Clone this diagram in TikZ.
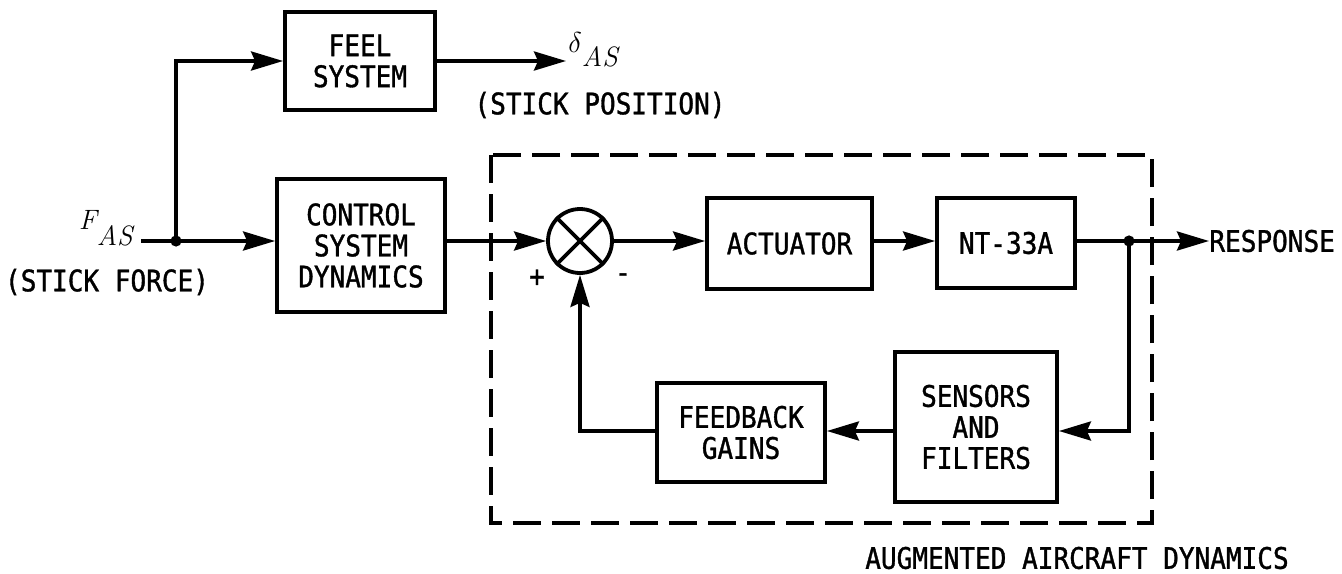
\documentclass[tikz,border=0pt]{standalone}
\usepackage{fontspec}
\newfontfamily\lab[FakeStretch=0.88,FakeBold=1.2]{DejaVu Sans Mono}
\usetikzlibrary{arrows.meta}
\tikzset{
  lbl/.style={font=\lab\fontsize{14.8pt}{15.5pt}\selectfont, align=center, inner sep=0pt},
  blk/.style={draw, line width=1.9pt, lbl},
  conn/.style={line width=1.8pt, -{Stealth[length=16pt,width=9.5pt,inset=2pt]}},
  wire/.style={line width=1.8pt},
  dashbox/.style={line width=2.4pt, dash pattern=on 14pt off 5.5pt},
  italbl/.style={font=\rmfamily\itshape\fontsize{14pt}{14pt}\selectfont, inner sep=0pt},
}
\begin{document}
\begin{tikzpicture}[x=0.5pt,y=-0.5pt]
\useasboundingbox (0,0) rectangle (1342,573);
\fill[white] (0,0) rectangle (1342,573);

% blocks
\node[blk, minimum width=75pt, minimum height=49pt] (feel) at (360,61) {FEEL\\SYSTEM};
\node[blk, minimum width=84pt, minimum height=66.5pt] (ctrl) at (361,245.5) {CONTROL\\SYSTEM\\DYNAMICS};
\node[draw, circle, line width=1.9pt, minimum size=32pt, inner sep=0pt] (sum) at (580,241) {};
\draw[line width=1.8pt] (sum.north east) -- (sum.south west) (sum.north west) -- (sum.south east);
\node[blk, minimum width=82.5pt, minimum height=45.5pt] (act) at (789.5,243.5) {ACTUATOR};
\node[blk, minimum width=69pt, minimum height=45pt] (nt) at (1006,243) {NT-33A};
\node[blk, minimum width=81pt, minimum height=75pt] (sens) at (976,427) {SENSORS\\AND\\FILTERS};
\node[blk, minimum width=84pt, minimum height=49.5pt] (fb) at (741,432.5) {FEEDBACK\\GAINS};

% dashed enclosure
\draw[dashbox] (491,155) rectangle (1152,523);

% labels
\node[italbl, anchor=base east] (fas) at (133,229) {F\raisebox{-8pt}{AS}};
\node[lbl] (sforce) at (107,282) {(STICK FORCE)};
\node[italbl, anchor=base west] (das) at (568,52) {$\delta$\raisebox{-7pt}{AS}};
\node[lbl] (spos) at (600,105) {(STICK POSITION)};
\node[lbl, anchor=west] (resp) at (1209,241) {RESPONSE};
\node[lbl] (aug) at (1077,558) {AUGMENTED AIRCRAFT DYNAMICS};
\node[lbl] (plus) at (537,278) {+};
\node[lbl] (minus) at (623,278) {-};

% coordinates
\coordinate (in) at (141,241);
\coordinate (j1) at (176,241);
\coordinate (j2) at (1129,241);
\coordinate (dout) at (566,61);
\coordinate (c2) at (1129,431);

% connectors
\draw[wire] (in) -- (j1);
\draw[conn] (j1) -- (ctrl.west |- j1);
\draw[conn] (j1) |- (feel.west);
\draw[conn] (feel.east) -- (dout);
\draw[conn] (ctrl.east |- j1) -- (sum.west);
\draw[conn] (sum.east) -- (act.west |- sum.east);
\draw[conn] (act.east |- sum.east) -- (nt.west |- sum.east);
\draw[conn] (nt.east |- sum.east) -- (resp.west);
\draw[conn] (j2) -- (c2) -- (sens.east |- c2);
\draw[conn] (sens.west |- c2) -- (fb.east |- c2);
\draw[conn] (fb.west |- c2) -| (sum.south);
\fill (j1) circle[radius=2.8pt];
\fill (j2) circle[radius=2.8pt];
\end{tikzpicture}
\end{document}
